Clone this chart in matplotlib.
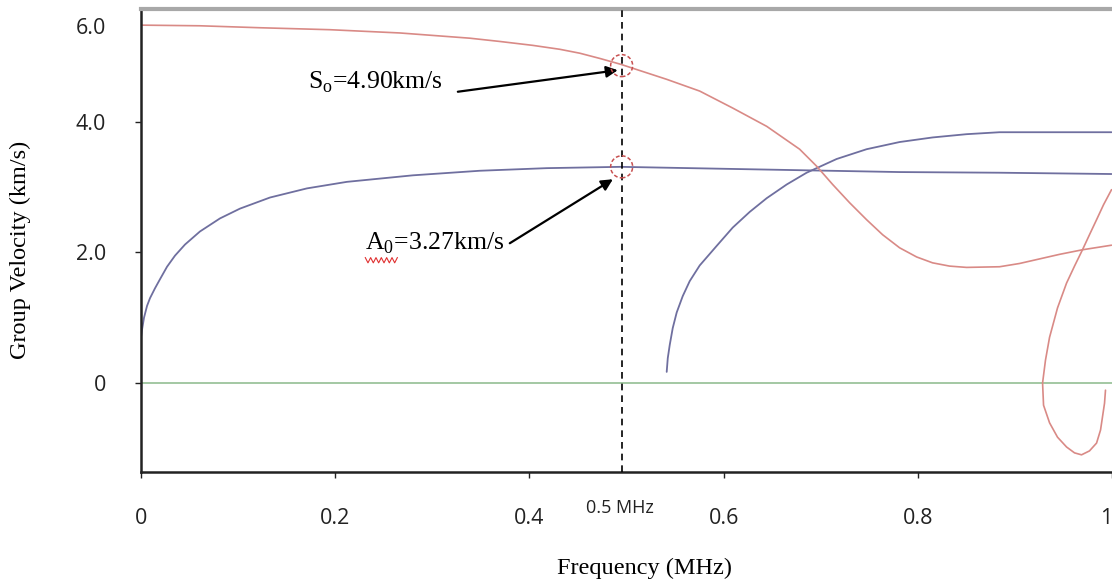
import numpy as np
import matplotlib
matplotlib.use("Agg")
import matplotlib.pyplot as plt
from matplotlib.patches import Ellipse

# ---------------- data ----------------
s0_freq = [0.0, 0.0607, 0.1225, 0.1945, 0.2666, 0.3386, 0.3695, 0.4035, 0.4313, 0.4519,
           0.4725, 0.4941, 0.5064, 0.5414, 0.5754, 0.6094, 0.6444, 0.6783, 0.6958, 0.7123,
           0.7298, 0.7473, 0.7638, 0.7813, 0.7988, 0.8152, 0.8327, 0.8502, 0.8842, 0.9048,
           0.9254, 0.9460, 0.9696, 0.9995]
s0_vel = [5.48, 5.47, 5.44, 5.41, 5.36, 5.28, 5.23, 5.17, 5.11, 5.05,
          4.97, 4.88, 4.82, 4.65, 4.47, 4.21, 3.93, 3.58, 3.32, 3.04,
          2.76, 2.50, 2.27, 2.07, 1.93, 1.84, 1.79, 1.77, 1.78, 1.83,
          1.90, 1.97, 2.04, 2.11]

a0_freq = [0.0, 0.0010, 0.0031, 0.0062, 0.0093, 0.0144, 0.0196, 0.0268, 0.0350, 0.0453,
           0.0607, 0.0813, 0.1019, 0.1328, 0.1709, 0.2120, 0.2800, 0.3489, 0.4179, 0.4941,
           0.6011, 0.7813, 0.8842, 0.9995]
a0_vel = [0.70, 0.81, 1.00, 1.18, 1.30, 1.45, 1.59, 1.78, 1.95, 2.12,
          2.32, 2.52, 2.67, 2.84, 2.98, 3.08, 3.18, 3.25, 3.29, 3.31,
          3.28, 3.23, 3.22, 3.20]

a1_freq = [0.5414, 0.5425, 0.5445, 0.5476, 0.5517, 0.5579, 0.5651, 0.5754, 0.5929, 0.6094,
           0.6269, 0.6444, 0.6650, 0.6855, 0.7164, 0.7473, 0.7813, 0.8152, 0.8502, 0.8842,
           0.9995]
a1_vel = [0.17, 0.38, 0.58, 0.84, 1.08, 1.33, 1.56, 1.80, 2.10, 2.38,
          2.62, 2.83, 3.04, 3.22, 3.43, 3.58, 3.69, 3.76, 3.81, 3.84,
          3.84]

s1_freq = [0.9995, 0.9913, 0.9841, 0.9768, 0.9696, 0.9614, 0.9532, 0.9439, 0.9357, 0.9315,
           0.9285, 0.9295, 0.9357, 0.9439, 0.9532, 0.9614, 0.9686, 0.9768, 0.9841, 0.9882,
           0.9902, 0.9923, 0.9933]
s1_vel = [2.96, 2.73, 2.50, 2.27, 2.04, 1.79, 1.53, 1.15, 0.70, 0.35,
          0.0, -0.34, -0.61, -0.83, -0.98, -1.07, -1.10, -1.04, -0.92, -0.72,
          -0.52, -0.31, -0.11]

zero_freq = [0.0, 1.0]
zero_vel = [0.0, 0.0]

marker_freq = 0.495
s0_mark_vel = 4.86
a0_mark_vel = 3.31

xtick_vals = [0.0, 0.2, 0.4, 0.6, 0.8, 1.0]
xtick_labels = ['0', '0.2', '0.4', '0.6', '0.8', '1']
ytick_vals = [0.0, 2.0, 4.0, 5.47]
ytick_labels = ['0', '2.0', '4.0', '6.0']

s0_text = r'S$_\mathregular{o}$=4.90km/s'
a0_text = r'A$_\mathregular{0}$=3.27km/s'
xlabel = 'Frequency (MHz)'
ylabel = 'Group Velocity (km/s)'
mark_label = '0.5 MHz'

# ---------------- figure ----------------
plt.rcParams['mathtext.fontset'] = 'custom'
plt.rcParams['mathtext.rm'] = 'Liberation Serif'

W, H = 1112, 583
fig = plt.figure(figsize=(W / 100, H / 100), dpi=100)
ax = fig.add_axes([141 / W, 1 - 472 / H, 971 / W, 463 / H])

red = '#d98a86'
blue = '#6f6f9f'
green = '#9cc49c'

line_kw = dict(solid_joinstyle='round', solid_capstyle='round')
ax.plot(zero_freq, zero_vel, color=green, lw=1.3, zorder=1)
ax.plot(a0_freq, a0_vel, color=blue, lw=1.3, **line_kw)
ax.plot(a1_freq, a1_vel, color=blue, lw=1.3, **line_kw)
ax.plot(s0_freq, s0_vel, color=red, lw=1.2, **line_kw)
ax.plot(s1_freq, s1_vel, color=red, lw=1.2, **line_kw)

ymin, ymax = -1.363, 5.727
ax.set_xlim(0, 1.0)
ax.set_ylim(ymin, ymax)

ax.axvline(marker_freq, color='black', lw=1.2, ls=(0, (4, 3)), zorder=3)

cw = 22 / 971 * 1.0
ch = 22 / 463 * (ymax - ymin)
for yv in (s0_mark_vel, a0_mark_vel):
    ax.add_patch(Ellipse((marker_freq, yv), cw, ch, fill=False, edgecolor='#c85050',
                         lw=1.1, ls=(0, (2.5, 1.5)), zorder=4))

serif = 'Liberation Serif'
arrow_kw = dict(arrowstyle='-|>', color='black', lw=1.6, mutation_scale=17,
                shrinkA=0, shrinkB=0)
ax.text(0.172, 4.60, s0_text, fontsize=18.5, family=serif, va='center', ha='left')
ax.annotate('', xy=(0.491, 4.79), xytext=(0.3263, 4.46), arrowprops=arrow_kw)
ax.text(0.231, 2.14, a0_text, fontsize=18.5, family=serif, va='center', ha='left')
ax.annotate('', xy=(0.486, 3.12), xytext=(0.3798, 2.14), arrowprops=arrow_kw)

# red spell-check squiggle under "A0"
zx = np.linspace(0.231, 0.264, 13)
zy = 1.88 + 0.04 * np.array([(-1) ** i for i in range(13)])
ax.plot(zx, zy, color='#e03030', lw=0.8)

# spines
ax.spines['right'].set_visible(False)
ax.spines['top'].set_color('#a8a8a8')
ax.spines['top'].set_linewidth(3)
ax.spines['left'].set_color('#222222')
ax.spines['left'].set_linewidth(1.8)
ax.spines['bottom'].set_color('#222222')
ax.spines['bottom'].set_linewidth(1.8)

sans = ['Open Sans', 'DejaVu Sans']
ax.set_xticks(xtick_vals)
ax.set_xticklabels(xtick_labels, family=sans, fontsize=15.5)
ax.set_yticks(ytick_vals)
ax.set_yticklabels(ytick_labels, family=sans, fontsize=15.5)
ax.tick_params(axis='x', direction='out', length=4, width=1, pad=22, colors='#222222')
ax.tick_params(axis='y', direction='out', length=4, width=1, pad=21, colors='#222222')
ax.get_yticklines()[-2].set_visible(False)
ax.get_xticklabels()[-1].set_horizontalalignment('right')

ax.annotate(mark_label, xy=(marker_freq, 0), xycoords=('data', 'axes fraction'),
            xytext=(-1, -26), textcoords='offset points', ha='center', va='center',
            fontsize=13, family=sans, color='#222222', annotation_clip=False)

fig.text(645 / W, 1 - 568 / H, xlabel, ha='center', va='center', family=serif, fontsize=17.5)
fig.text(20 / W, 1 - 250 / H, ylabel, ha='center', va='center', rotation=90,
         family=serif, fontsize=17.5)

fig.savefig('out.png', dpi=100)
